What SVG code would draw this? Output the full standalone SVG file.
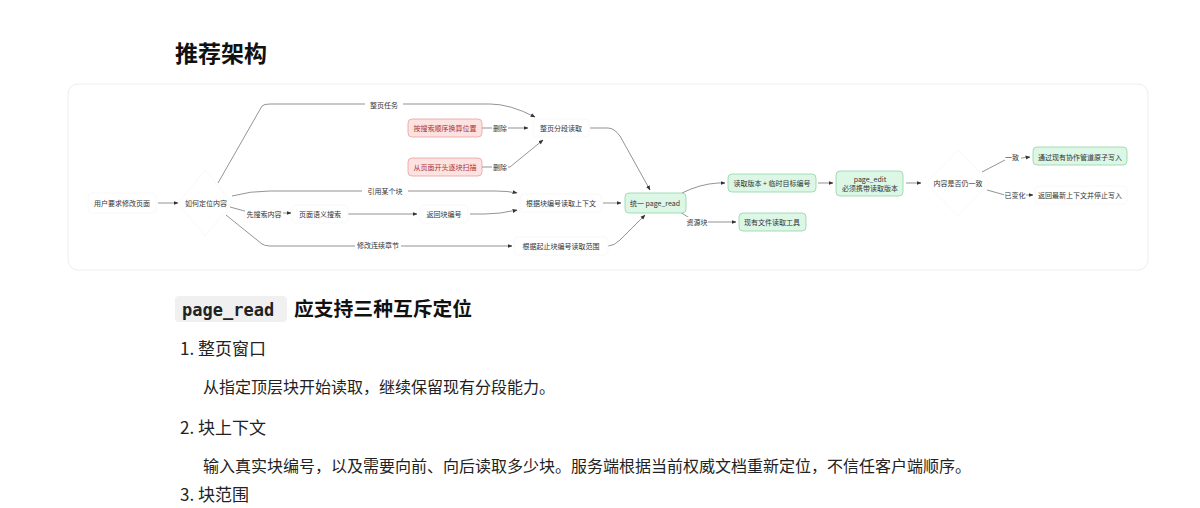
<svg xmlns="http://www.w3.org/2000/svg" width="1200" height="508" viewBox="0 0 1200 508">
<defs>
<style>
text{font-family:"Noto Sans CJK SC","Noto Sans",sans-serif;fill:#333}
.s{font-size:7px;text-anchor:middle;dominant-baseline:central}
.red{fill:#fde2e2;stroke:#e8a0a0;stroke-width:0.8}
.grn{fill:#dcf7e6;stroke:#8fd4a6;stroke-width:0.8}
.wht{fill:#fff;stroke:#f6f6f6;stroke-width:0.8}
.e{fill:none;stroke:#666;stroke-width:0.7;marker-end:url(#a)}
.lb{fill:#fff}
.body{font-size:16px;fill:#222}
</style>
<marker id="a" viewBox="0 0 10 10" refX="9" refY="5" markerWidth="7" markerHeight="7" orient="auto"><path d="M0,1L10,5L0,9z" fill="#333"/></marker>
</defs>
<rect width="1200" height="508" fill="#fff"/>
<text x="175" y="62" style="font-size:23px;font-weight:bold;fill:#111">推荐架构</text>
<rect x="68" y="84" width="1080" height="186" rx="10" fill="#fff" stroke="#eee"/>
<g id="edges">
<path class="e" d="M158,203L178,203"/>
<path class="e" d="M218,183L262,106Q264,104 270,104L490,104Q510,104 535,117"/>
<path class="e" d="M482,128L528,128"/>
<path class="e" d="M482,167L510,167L543,140"/>
<path class="e" d="M232,196Q250,191 270,191L495,191Q508,191 517,193"/>
<path class="e" d="M230,207L252,213L291,213"/>
<path class="e" d="M348,214L417,214"/>
<path class="e" d="M470,214L485,214Q500,214 517,210"/>
<path class="e" d="M226,215L262,244Q265,246 270,246L512,246"/>
<path class="e" d="M590,128L608,128Q614,128 620,136L650,190"/>
<path class="e" d="M603,203L621,203"/>
<path class="e" d="M608,246Q614,246 620,240L645,215"/>
<path class="e" d="M682,193Q700,184 718,183L725,183"/>
<path class="e" d="M680,212L696,222L736,222"/>
<path class="e" d="M818,183L833,183"/>
<path class="e" d="M906,183L921,183"/>
<path class="e" d="M982,172L1005,160L1030,157"/>
<path class="e" d="M987,190L1005,195L1033,195"/>
<g class="s">
<rect class="lb" x="365" y="100" width="38" height="10"/><text x="384" y="105">整页任务</text>
<rect class="lb" x="492" y="123" width="16" height="10"/><text x="500" y="128">删除</text>
<rect class="lb" x="492" y="162" width="16" height="10"/><text x="500" y="167">删除</text>
<rect class="lb" x="362" y="186" width="46" height="10"/><text x="385" y="191">引用某个块</text>
<rect class="lb" x="245" y="209" width="38" height="10"/><text x="264" y="214">先搜索内容</text>
<rect class="lb" x="355" y="240" width="46" height="10"/><text x="378" y="245">修改连续章节</text>
<rect class="lb" x="686" y="217" width="22" height="10"/><text x="697" y="222">资源块</text>
<rect class="lb" x="1005" y="152" width="16" height="10"/><text x="1012" y="157">一致</text>
<rect class="lb" x="1004" y="190" width="22" height="10"/><text x="1015" y="195">已变化</text>
</g>
</g>
<g id="n1"><rect class="wht" x="88" y="193" width="68" height="20" rx="4"/><text class="s" x="122" y="203">用户要求修改页面</text></g>
<g id="n2"><path class="wht" d="M205,170L232,203L205,236L178,203z"/><text class="s" x="206" y="203">如何定位内容</text></g>
<g id="n3"><rect class="red" x="408" y="119" width="74" height="18" rx="4"/><text class="s" x="445" y="128" style="fill:#a33">按搜索顺序换算位置</text></g>
<g id="n4"><rect class="red" x="408" y="158" width="74" height="18" rx="4"/><text class="s" x="445" y="167" style="fill:#a33">从页面开头逐块扫描</text></g>
<g id="n5"><rect class="wht" x="533" y="119" width="56" height="18" rx="4"/><text class="s" x="561" y="128">整页分段读取</text></g>
<g id="n6"><rect class="wht" x="520" y="194" width="82" height="18" rx="4"/><text class="s" x="561" y="203">根据块编号读取上下文</text></g>
<g id="n7"><rect class="wht" x="292" y="205" width="56" height="18" rx="4"/><text class="s" x="320" y="214">页面语义搜索</text></g>
<g id="n8"><rect class="wht" x="420" y="205" width="48" height="18" rx="4"/><text class="s" x="444" y="214">返回块编号</text></g>
<g id="n9"><rect class="wht" x="514" y="237" width="94" height="18" rx="4"/><text class="s" x="561" y="246">根据起止块编号读取范围</text></g>
<g id="n10"><rect class="grn" x="625" y="193" width="61" height="20" rx="4"/><text class="s" x="655" y="203">统一 page_read</text></g>
<g id="n11"><rect class="grn" x="728" y="174" width="88" height="18" rx="4"/><text class="s" x="772" y="183">读取版本 + 临时目标编号</text></g>
<g id="n12"><rect class="grn" x="739" y="213" width="67" height="18" rx="4"/><text class="s" x="772" y="222">现有文件读取工具</text></g>
<g id="n13"><rect class="grn" x="836" y="171" width="67" height="25" rx="4"/><text class="s" x="870" y="179">page_edit</text><text class="s" x="870" y="188">必须携带读取版本</text></g>
<g id="n14"><path class="wht" d="M958,150L990,183L958,216L926,183z"/><text class="s" x="958" y="183">内容是否仍一致</text></g>
<g id="n15"><rect class="grn" x="1033" y="147" width="94" height="18" rx="4"/><text class="s" x="1080" y="157">通过现有协作管道原子写入</text></g>
<g id="n16"><rect class="wht" x="1035" y="186" width="92" height="18" rx="4"/><text class="s" x="1080" y="195">返回最新上下文并停止写入</text></g>
<rect x="175" y="296" width="112" height="26" rx="4" fill="#f0f0f0"/>
<text x="182" y="316" style="font-family:'DejaVu Sans Mono',monospace;font-size:17px;font-weight:bold;fill:#222">page_read</text>
<text x="294" y="316" style="font-size:19.8px;font-weight:bold;fill:#111">应支持三种互斥定位</text>
<text class="body" x="180" y="355" style="font-size:17px">1. 整页窗口</text>
<text class="body" x="203" y="393">从指定顶层块开始读取，继续保留现有分段能力。</text>
<text class="body" x="180" y="434" style="font-size:17px">2. 块上下文</text>
<text class="body" x="203" y="472">输入真实块编号，以及需要向前、向后读取多少块。服务端根据当前权威文档重新定位，不信任客户端顺序。</text>
<text class="body" x="180" y="501" style="font-size:17px">3. 块范围</text>
</svg>
